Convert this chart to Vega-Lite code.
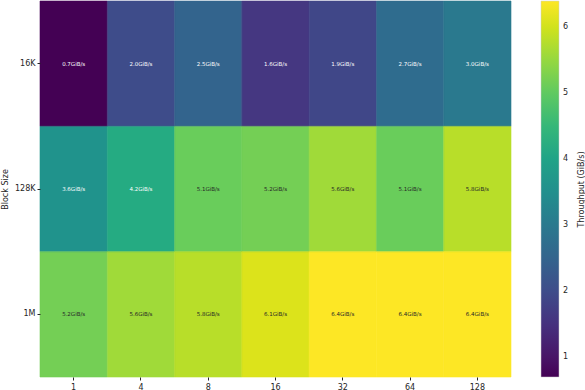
{
  "$schema": "https://vega.github.io/schema/vega-lite/v6.json",
  "width": 471,
  "height": 376,
  "autosize": {"type": "none"},
  "padding": {"left": 40, "top": 1, "right": 74, "bottom": 13},
  "background": "white",
  "config": {
    "font": "DejaVu Sans",
    "view": {"stroke": null},
    "axis": {"labelFont": "DejaVu Sans", "titleFont": "DejaVu Sans", "labelColor": "#262626", "titleColor": "#262626", "tickColor": "#262626", "labelFontSize": 8, "titleFontSize": 8, "titleFontWeight": "normal", "domain": false, "tickSize": 3}
  },
  "data": {
    "values": [
      {"block": "16K", "threads": "1", "tp": 0.7},
      {"block": "16K", "threads": "4", "tp": 2.0},
      {"block": "16K", "threads": "8", "tp": 2.5},
      {"block": "16K", "threads": "16", "tp": 1.6},
      {"block": "16K", "threads": "32", "tp": 1.9},
      {"block": "16K", "threads": "64", "tp": 2.7},
      {"block": "16K", "threads": "128", "tp": 3.0},
      {"block": "128K", "threads": "1", "tp": 3.6},
      {"block": "128K", "threads": "4", "tp": 4.2},
      {"block": "128K", "threads": "8", "tp": 5.1},
      {"block": "128K", "threads": "16", "tp": 5.2},
      {"block": "128K", "threads": "32", "tp": 5.6},
      {"block": "128K", "threads": "64", "tp": 5.1},
      {"block": "128K", "threads": "128", "tp": 5.8},
      {"block": "1M", "threads": "1", "tp": 5.2},
      {"block": "1M", "threads": "4", "tp": 5.6},
      {"block": "1M", "threads": "8", "tp": 5.8},
      {"block": "1M", "threads": "16", "tp": 6.1},
      {"block": "1M", "threads": "32", "tp": 6.4},
      {"block": "1M", "threads": "64", "tp": 6.4},
      {"block": "1M", "threads": "128", "tp": 6.4}
    ]
  },
  "transform": [
    {"calculate": "format(datum.tp, '.1f') + 'GiB/s'", "as": "label"}
  ],
  "encoding": {
    "x": {"field": "threads", "type": "ordinal", "sort": ["1", "4", "8", "16", "32", "64", "128"], "title": null, "axis": {"labelAngle": 0, "labelPadding": 3}}
  },
  "resolve": {"scale": {"stroke": "independent"}, "legend": {"stroke": "independent"}, "axis": {"y": "independent"}},
  "layer": [
    {
      "mark": {"type": "rect"},
      "encoding": {
        "y": {"field": "block", "type": "ordinal", "sort": ["16K", "128K", "1M"], "title": "Block Size", "axis": {"orient": "left", "labelPadding": 2, "titlePadding": 5}},
        "color": {
          "field": "tp",
          "type": "quantitative",
          "scale": {"scheme": "viridis", "domain": [0.7, 6.4]},
          "legend": {
            "title": null,
            "orient": "none",
            "legendX": 501,
            "legendY": 0,
            "direction": "vertical",
            "gradientLength": 376,
            "gradientThickness": 18,
            "gradientStrokeColor": "#cccccc",
            "gradientStrokeWidth": 0.5,
            "values": [1, 2, 3, 4, 5, 6],
            "labelFontSize": 8,
            "labelColor": "#262626",
            "labelOffset": 4
          }
        }
      }
    },
    {
      "mark": {"type": "rect", "filled": false, "strokeWidth": 0.6},
      "encoding": {
        "y": {"field": "block", "type": "ordinal", "sort": ["16K", "128K", "1M"], "axis": null},
        "stroke": {
          "field": "tp",
          "type": "quantitative",
          "scale": {"scheme": "viridis", "domain": [0.7, 6.4]},
          "legend": null
        }
      }
    },
    {
      "mark": {"type": "text", "fontSize": 5.5, "font": "DejaVu Sans"},
      "encoding": {
        "y": {"field": "block", "type": "ordinal", "sort": ["16K", "128K", "1M"], "title": "Throughput (GiB/s)", "axis": {"orient": "right", "labels": false, "ticks": false, "domain": false, "titleAngle": 270, "titlePadding": 74}},
        "text": {"field": "label"},
        "color": {"condition": {"test": "datum.tp > 4.5", "value": "#262626"}, "value": "#ffffff"}
      }
    }
  ]
}
